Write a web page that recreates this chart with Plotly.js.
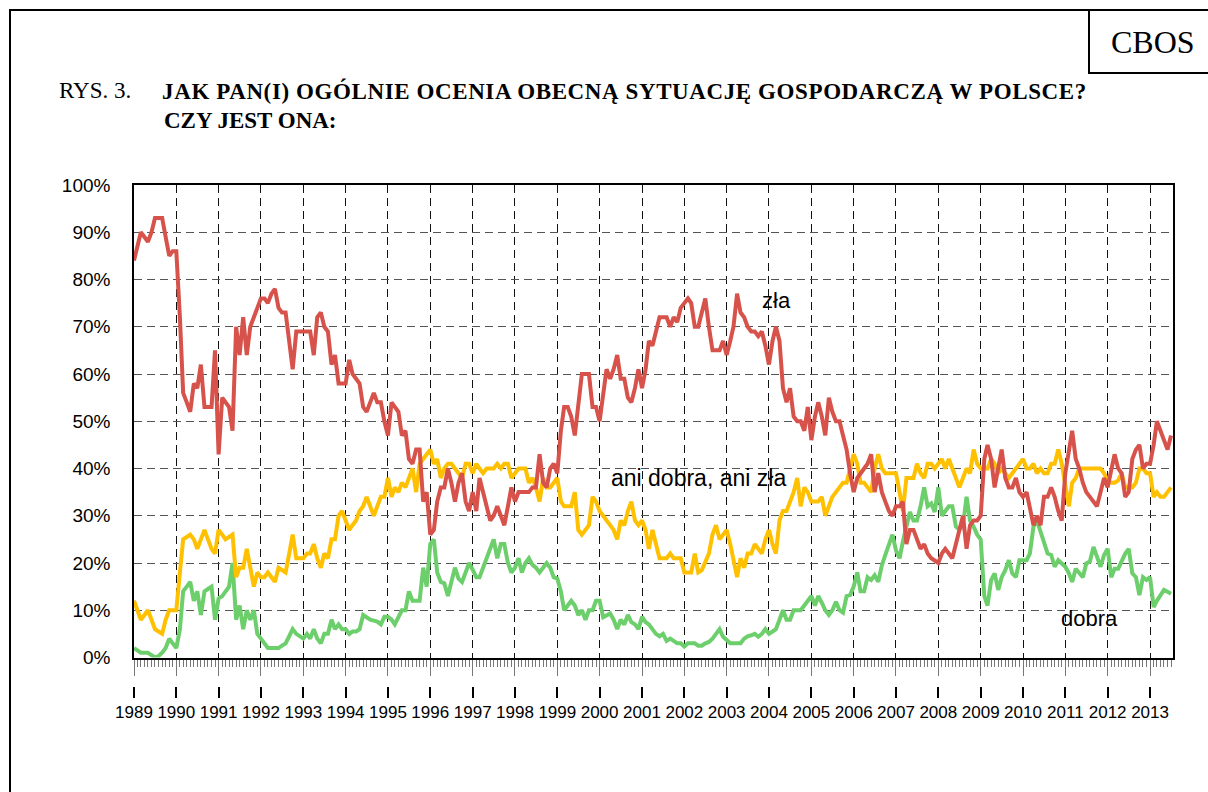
<!DOCTYPE html>
<html>
<head>
<meta charset="utf-8">
<script src="https://cdn.plot.ly/plotly-3.0.1.min.js"></script>
<style>
  body { margin: 0; background: #fff; }
  .annotation[data-index="1"] .annotation-text { letter-spacing: 0.6px; }
</style>
</head>
<body>
<div id="chart" style="width:1208px;height:792px;"></div>
<script>
// CBOS, monthly survey values in percent, Jan 1989 - Jul 2013
var startYear = 1989;

// "zła" (bad)
var zla = [
  84, 87, 90, 89, 88, 90, 93, 93, 93, 89, 85, 86,
  86, 72, 56, 54, 52, 58, 57, 62, 53, 53, 53, 65,
  43, 55, 54, 53, 48, 70, 64, 72, 64, 70, 72, 74,
  76, 76, 75, 77, 78, 74, 73, 73, 67, 61, 69, 69,
  69, 69, 69, 64, 72, 73, 70, 69, 62, 64, 58, 58,
  58, 63, 60, 59, 58, 53, 52, 54, 56, 54, 54, 50,
  47, 54, 53, 52, 47, 48, 42, 41, 44, 44, 33, 35,
  26, 27, 33, 36, 36, 40, 37, 33, 37, 39, 33, 31,
  35, 31, 38, 35, 32, 29, 30, 32, 30, 28, 32, 36,
  33, 35, 35, 35, 35, 36, 36, 43, 37, 36, 40, 41,
  39, 48, 53, 53, 51, 47, 54, 60, 60, 60, 53, 53,
  50, 55, 61, 59, 61, 64, 59, 59, 55, 54, 57, 61,
  57, 61, 67, 66, 69, 72, 72, 72, 70, 72, 71, 74,
  75, 76, 75, 70, 70, 73, 76, 70, 65, 65, 65, 67,
  64, 67, 70, 77, 73, 72, 70, 69, 69, 68, 69, 66,
  62, 67, 70, 67, 57, 54, 57, 51, 50, 50, 48, 53,
  46, 51, 54, 51, 47, 55, 52, 50, 50, 47, 44, 39,
  35, 38, 39, 40, 41, 43, 35, 39, 35, 33, 31, 30,
  32, 32, 33, 24, 27, 27, 25, 23, 24, 22, 21, 20.5,
  20, 22, 23, 22, 21, 24, 27, 30, 23, 28, 29, 29,
  30, 42, 45, 42, 36, 40, 44, 38, 36, 36, 38, 35,
  34, 35, 32, 28, 30, 28, 34, 34, 36, 34, 31, 29,
  39, 44, 48, 42, 40, 37, 35, 34, 33, 32, 35, 38,
  36, 40, 43, 40, 39, 34, 35, 42, 44, 45, 40, 41,
  41, 45, 50, 48, 46, 44, 47
];

// "ani dobra, ani zła" (neither good nor bad)
var ani = [
  12, 10, 8, 9, 10, 8, 6, 5.5, 5, 8, 10, 10,
  10, 18, 25, 25.5, 26, 25, 23, 25, 27, 25, 23, 22,
  27, 26, 25, 25.5, 26, 17, 19, 19, 23, 19, 15, 18,
  17, 17, 18, 17, 16, 19, 18.5, 18, 22, 26, 21, 21,
  21, 22, 22, 24, 21, 19, 22, 21, 25, 25, 30, 31,
  29, 27, 28, 29, 31, 32, 34, 32, 30, 32, 34, 34,
  38, 34, 36, 35, 37, 36, 38, 40, 35, 41, 42, 43,
  44, 41, 42, 38, 40, 41, 41, 40, 39, 38, 41, 41,
  39, 41, 40, 39, 40, 40, 40, 41, 40, 41, 41, 38,
  39, 40, 40, 40, 37, 38, 36, 33, 38, 36, 36, 37,
  38, 33, 32, 32, 32, 35, 27, 26, 27, 28, 34, 33,
  31, 30, 29, 28, 27, 25, 29, 28, 31, 33, 29, 28,
  29, 27, 23, 27, 24, 21, 21, 21, 22, 21, 21, 21,
  18, 18, 18, 22, 18, 18.5, 20, 22, 26, 28, 25, 26,
  27, 24, 21, 17, 21, 19, 22, 22, 24, 23, 22, 25,
  27, 24, 22, 29, 31, 31, 33, 35, 38, 32, 36, 35,
  33, 33, 33, 34, 30, 32, 34, 35, 36, 37, 37, 40,
  43, 41, 37, 37, 36, 35, 40, 43, 40, 39, 39, 39,
  39, 35, 31, 38, 38, 38, 41, 39, 38, 41, 41, 40,
  41, 42, 40, 42, 40, 38, 36, 38, 40, 39, 44, 41,
  40, 40, 40, 42, 41, 39, 40, 39, 38, 39, 40, 41,
  42, 40, 40, 41, 39, 40, 39, 39, 41, 41, 44, 41,
  37, 32, 37, 38, 40, 40, 40, 40, 40, 40, 40, 39,
  37.5, 37, 37, 37.5, 39, 36, 36, 36, 37, 40, 40, 39,
  39, 34, 35, 34, 34, 35, 36
];

// "dobra" (good)
var dobra = [
  2, 1.5, 1, 1, 1, 0.5, 0, 0.3, 1, 2, 4, 3,
  2, 6, 14, 15, 16, 12, 14, 9, 14, 14.5, 15, 8,
  12.5, 13, 14, 15, 20, 8, 11, 6, 10, 8, 10, 5,
  4, 3, 2, 2, 2, 2, 2.5, 3, 4.5, 6, 5, 4.4,
  4, 5, 4, 6, 4, 3, 5, 5, 8, 6, 7, 6,
  6, 5, 5.5, 5.5, 6, 9, 8.5, 8, 7.8, 7.6, 7, 8.6,
  8.6, 8, 7, 8.6, 10, 10, 14, 12, 12, 12, 19, 15,
  24, 25, 18, 16, 15.7, 13, 16, 19, 16.7, 16, 18, 20,
  18.6, 17, 17, 19, 21, 23, 25, 21, 24, 24, 20, 18,
  19, 21, 18, 20, 21, 19.6, 19, 18, 19, 20, 19, 17,
  16.7, 14, 10, 11, 12, 11, 9, 10, 8, 10, 10, 12,
  12, 8.5, 9, 9.3, 8, 6, 8, 7, 9, 7.5, 7, 6,
  8.6, 7.5, 7, 6, 5, 4.5, 5, 3.5, 4, 3.5, 3, 3,
  2.3, 3, 3, 3, 2.5, 2.5, 3, 3.3, 4, 5, 6, 4.4,
  3.7, 3, 3, 3, 3, 4, 4.5, 4.7, 5, 4.4, 5, 6,
  5, 5.5, 6, 8, 10, 8, 8, 10, 10, 10, 11, 12,
  13, 11, 13, 11.6, 10, 9, 10, 11.8, 10, 9.5, 13, 13.2,
  15, 18, 14, 14, 17, 16.4, 17.4, 16, 19.5, 21.7, 24, 26,
  22.7, 21, 24.5, 28, 30.8, 29, 29, 32, 36, 32, 32.6, 30.8,
  36, 30, 31, 32, 32, 27.7, 27, 28, 34, 29, 27.7, 26,
  25, 13, 11, 16.4, 17.8, 14.3, 17, 18.5, 20.6, 17.8, 17, 20.6,
  20.6, 20.6, 22, 27.7, 29, 26.6, 24, 22, 21.7, 19.2, 20.6, 20,
  19.2, 17.8, 16, 18.8, 18, 17, 19.9, 20.3, 23.4, 21.3, 19.2, 21.7,
  23, 17, 18.8, 18.8, 20.6, 22, 23, 17.8, 17, 13.2, 17, 16.4,
  17, 10.7, 12, 13, 14.3, 13.9, 13.5
];

// one date per survey month
var months = zla.map(function(v, i) {
  var y = startYear + Math.floor(i / 12);
  var m = (i % 12) + 1;
  return y + '-' + (m < 10 ? '0' + m : m) + '-01';
});

// page geometry (pixels)
var W = 1208, H = 792;
var ml = 134, mr = 35, mt = 185, mb = 106;
function px(x) { return (x - ml) / (W - ml - mr); }
function py(y) { return (H - mb - y) / (H - mt - mb); }

var xRange = ['1989-01-01', '2013-07-18'];
var dash = '8px,5px';
var serif = 'Liberation Serif, Times New Roman, serif';

var lineW = 4;
var data = [
  {x: months, y: dobra, name: 'dobra', mode: 'lines',
   line: {color: '#6CCF6C', width: lineW}},
  {x: months, y: ani, name: 'ani dobra, ani zła', mode: 'lines',
   line: {color: '#FFC000', width: lineW}},
  {x: months, y: zla, name: 'zła', mode: 'lines',
   line: {color: '#D7524A', width: lineW}},
  // empty helper so the second x axis (year labels) gets drawn
  {x: [months[0]], y: [null], xaxis: 'x2', mode: 'lines',
   hoverinfo: 'skip', showlegend: false}
];

var layout = {
  width: W, height: H,
  margin: {l: ml, r: mr, t: mt, b: mb, pad: 0},
  paper_bgcolor: '#fff', plot_bgcolor: '#fff',
  showlegend: false,
  font: {family: 'Liberation Sans, Arial, sans-serif', color: '#000'},
  xaxis: {
    type: 'date', range: xRange, anchor: 'y',
    tick0: '1989-01-01', dtick: 'M12',
    showticklabels: false,
    ticks: 'outside', ticklen: 16, tickwidth: 1, tickcolor: '#777',
    minor: {tick0: '1989-01-01', dtick: 'M1', ticks: 'outside', ticklen: 7,
            tickwidth: 1, tickcolor: '#777', showgrid: false},
    showgrid: true, gridcolor: '#111', gridwidth: 1, griddash: dash,
    showline: true, linecolor: '#000', linewidth: 2, mirror: true,
    zeroline: false
  },
  xaxis2: {
    type: 'date', range: xRange, overlaying: 'x', anchor: 'free', position: 0,
    tick0: '1989-01-01', dtick: 'M12', tickformat: '%Y',
    ticks: 'outside', ticklen: 11, tickwidth: 1.5, tickcolor: '#000',
    tickfont: {size: 17, color: '#000'},
    showgrid: false, showline: false, zeroline: false
  },
  yaxis: {
    domain: [py(657.5), 1], range: [0, 100], dtick: 10, ticksuffix: '%',
    tickfont: {size: 19, color: '#000'}, ticks: '', ticklabelstandoff: 18,
    showgrid: true, gridcolor: '#555', gridwidth: 1, griddash: dash,
    showline: true, linecolor: '#000', linewidth: 1.5, mirror: true,
    zeroline: false
  },
  shapes: [
    // outer frame
    {type: 'rect', xref: 'paper', yref: 'paper',
     x0: px(10), x1: px(1230), y0: py(10), y1: py(830),
     line: {color: '#000', width: 2}},
    // CBOS box
    {type: 'rect', xref: 'paper', yref: 'paper',
     x0: px(1089), x1: px(1230), y0: py(10), y1: py(73),
     line: {color: '#000', width: 2}}
  ],
  annotations: [
    {text: 'RYS. 3.', xref: 'paper', yref: 'paper', x: px(57), y: py(91),
     xanchor: 'left', yanchor: 'middle', showarrow: false,
     font: {family: serif, size: 23}},
    {text: '<b>JAK PAN(I) OGÓLNIE OCENIA OBECNĄ SYTUACJĘ GOSPODARCZĄ W POLSCE?</b>',
     xref: 'paper', yref: 'paper', x: px(624), y: py(91),
     xanchor: 'center', yanchor: 'middle', showarrow: false,
     font: {family: serif, size: 23}},
    {text: '<b>CZY JEST ONA:</b>', xref: 'paper', yref: 'paper', x: px(162), y: py(121),
     xanchor: 'left', yanchor: 'middle', showarrow: false,
     font: {family: serif, size: 23}},
    {text: 'CBOS', xref: 'paper', yref: 'paper', x: px(1153), y: py(42),
     xanchor: 'center', yanchor: 'middle', showarrow: false,
     font: {family: serif, size: 32}},
    {text: 'zła', x: '2004-03-10', y: 75.5, xanchor: 'center', yanchor: 'middle',
     showarrow: false, font: {size: 22}},
    {text: 'ani dobra, ani zła', x: '2000-03-20', y: 38, xanchor: 'left', yanchor: 'middle',
     showarrow: false, font: {size: 23}},
    {text: 'dobra', x: '2010-11-10', y: 8.3, xanchor: 'left', yanchor: 'middle',
     showarrow: false, font: {size: 22}}
  ]
};

Plotly.newPlot('chart', data, layout, {displayModeBar: false});
</script>
</body>
</html>
